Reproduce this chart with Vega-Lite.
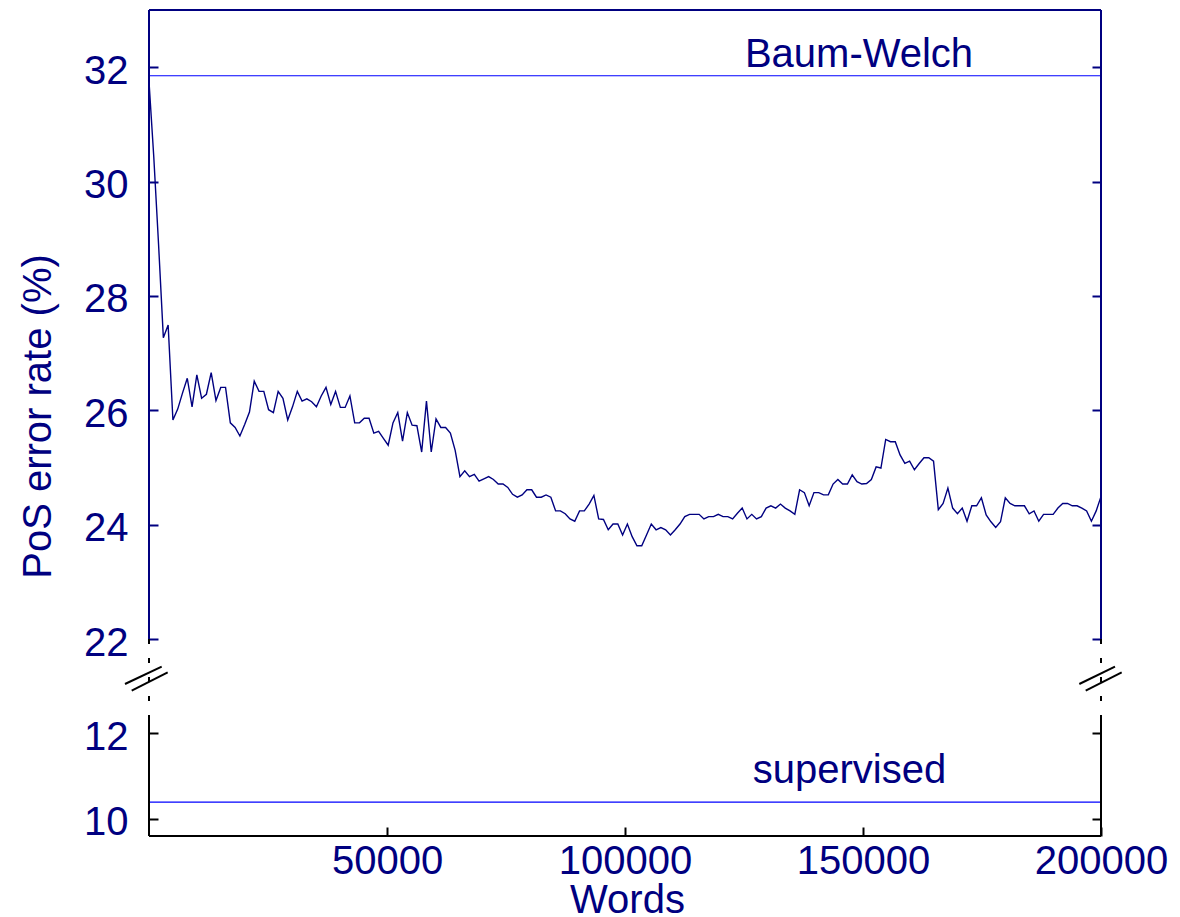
{
  "$schema": "https://vega.github.io/schema/vega-lite/v6.json",
  "width": 952,
  "height": 826,
  "autosize": "none",
  "padding": {"left": 149, "top": 10, "right": 79, "bottom": 81},
  "background": "white",
  "config": {"view": {"stroke": null}, "font": "Liberation Sans"},
  "datasets": {
    "series": [
      {"w":0,"e":31.75},{"w":1005,"e":30.43},{"w":2010,"e":28.9},{"w":3015,"e":27.27},{"w":4020,"e":27.49},{"w":5025,"e":25.83},{"w":6030,"e":26.02},{"w":7035,"e":26.3},{"w":8040,"e":26.56},{"w":9045,"e":26.06},
      {"w":10050,"e":26.62},{"w":11055,"e":26.21},{"w":12060,"e":26.28},{"w":13065,"e":26.66},{"w":14070,"e":26.17},{"w":15075,"e":26.4},{"w":16080,"e":26.4},{"w":17085,"e":25.78},{"w":18090,"e":25.7},{"w":19095,"e":25.55},
      {"w":20100,"e":25.75},{"w":21105,"e":25.97},{"w":22110,"e":26.51},{"w":23115,"e":26.33},{"w":24120,"e":26.33},{"w":25125,"e":26.01},{"w":26130,"e":25.96},{"w":27135,"e":26.33},{"w":28140,"e":26.21},{"w":29145,"e":25.83},
      {"w":30150,"e":26.06},{"w":31155,"e":26.33},{"w":32160,"e":26.16},{"w":33165,"e":26.2},{"w":34170,"e":26.15},{"w":35175,"e":26.06},{"w":36180,"e":26.25},{"w":37185,"e":26.4},{"w":38190,"e":26.1},{"w":39195,"e":26.33},
      {"w":40200,"e":26.05},{"w":41205,"e":26.05},{"w":42210,"e":26.25},{"w":43215,"e":25.78},{"w":44220,"e":25.78},{"w":45225,"e":25.86},{"w":46230,"e":25.86},{"w":47235,"e":25.6},{"w":48240,"e":25.63},{"w":49245,"e":25.51},
      {"w":50250,"e":25.39},{"w":51255,"e":25.78},{"w":52260,"e":25.96},{"w":53265,"e":25.46},{"w":54270,"e":25.96},{"w":55275,"e":25.74},{"w":56280,"e":25.73},{"w":57285,"e":25.27},{"w":58290,"e":26.16},{"w":59295,"e":25.27},
      {"w":60300,"e":25.85},{"w":61305,"e":25.7},{"w":62310,"e":25.7},{"w":63315,"e":25.6},{"w":64320,"e":25.3},{"w":65325,"e":24.84},{"w":66330,"e":24.94},{"w":67335,"e":24.84},{"w":68340,"e":24.88},{"w":69345,"e":24.76},
      {"w":70350,"e":24.8},{"w":71355,"e":24.84},{"w":72360,"e":24.79},{"w":73365,"e":24.71},{"w":74370,"e":24.71},{"w":75375,"e":24.65},{"w":76380,"e":24.53},{"w":77385,"e":24.48},{"w":78390,"e":24.52},{"w":79395,"e":24.61},
      {"w":80400,"e":24.61},{"w":81405,"e":24.48},{"w":82410,"e":24.48},{"w":83415,"e":24.52},{"w":84420,"e":24.48},{"w":85425,"e":24.24},{"w":86430,"e":24.24},{"w":87435,"e":24.19},{"w":88440,"e":24.1},{"w":89445,"e":24.06},
      {"w":90450,"e":24.24},{"w":91455,"e":24.24},{"w":92460,"e":24.36},{"w":93465,"e":24.51},{"w":94470,"e":24.1},{"w":95475,"e":24.09},{"w":96480,"e":23.91},{"w":97485,"e":24.01},{"w":98490,"e":24.01},{"w":99495,"e":23.82},
      {"w":100500,"e":24.01},{"w":101505,"e":23.79},{"w":102510,"e":23.63},{"w":103515,"e":23.63},{"w":104520,"e":23.82},{"w":105525,"e":24.01},{"w":106530,"e":23.91},{"w":107535,"e":23.95},{"w":108540,"e":23.91},{"w":109545,"e":23.82},
      {"w":110550,"e":23.91},{"w":111555,"e":24.01},{"w":112560,"e":24.14},{"w":113565,"e":24.18},{"w":114570,"e":24.18},{"w":115575,"e":24.18},{"w":116580,"e":24.1},{"w":117585,"e":24.14},{"w":118590,"e":24.14},{"w":119595,"e":24.18},
      {"w":120600,"e":24.14},{"w":121605,"e":24.14},{"w":122610,"e":24.1},{"w":123615,"e":24.2},{"w":124620,"e":24.29},{"w":125625,"e":24.1},{"w":126630,"e":24.18},{"w":127635,"e":24.1},{"w":128640,"e":24.14},{"w":129645,"e":24.29},
      {"w":130650,"e":24.33},{"w":131655,"e":24.29},{"w":132660,"e":24.36},{"w":133665,"e":24.29},{"w":134670,"e":24.24},{"w":135675,"e":24.18},{"w":136680,"e":24.61},{"w":137685,"e":24.56},{"w":138690,"e":24.33},{"w":139695,"e":24.56},
      {"w":140700,"e":24.56},{"w":141705,"e":24.52},{"w":142710,"e":24.52},{"w":143715,"e":24.71},{"w":144720,"e":24.79},{"w":145725,"e":24.71},{"w":146730,"e":24.71},{"w":147735,"e":24.87},{"w":148740,"e":24.75},{"w":149745,"e":24.71},
      {"w":150750,"e":24.72},{"w":151755,"e":24.79},{"w":152760,"e":25.01},{"w":153765,"e":24.99},{"w":154770,"e":25.49},{"w":155775,"e":25.45},{"w":156780,"e":25.45},{"w":157785,"e":25.22},{"w":158790,"e":25.07},{"w":159795,"e":25.11},
      {"w":160800,"e":24.96},{"w":161805,"e":25.07},{"w":162810,"e":25.17},{"w":163815,"e":25.17},{"w":164820,"e":25.11},{"w":165825,"e":24.26},{"w":166830,"e":24.37},{"w":167835,"e":24.64},{"w":168840,"e":24.29},{"w":169845,"e":24.19},
      {"w":170850,"e":24.29},{"w":171855,"e":24.06},{"w":172860,"e":24.33},{"w":173865,"e":24.33},{"w":174870,"e":24.47},{"w":175875,"e":24.17},{"w":176880,"e":24.05},{"w":177885,"e":23.95},{"w":178890,"e":24.05},{"w":179895,"e":24.47},
      {"w":180900,"e":24.37},{"w":181905,"e":24.33},{"w":182910,"e":24.33},{"w":183915,"e":24.33},{"w":184920,"e":24.19},{"w":185925,"e":24.24},{"w":186930,"e":24.06},{"w":187935,"e":24.18},{"w":188940,"e":24.18},{"w":189945,"e":24.18},
      {"w":190950,"e":24.29},{"w":191955,"e":24.37},{"w":192960,"e":24.37},{"w":193965,"e":24.33},{"w":194970,"e":24.33},{"w":195975,"e":24.29},{"w":196980,"e":24.24},{"w":197985,"e":24.06},{"w":198990,"e":24.24},{"w":199995,"e":24.49}
    ],
    "refs": [
      {"label": "Baum-Welch", "w": 0, "w2": 200000, "e": 31.85},
      {"label": "supervised", "w": 0, "w2": 200000, "e": 10.39}
    ],
    "reflabels": [
      {"label": "Baum-Welch", "w": 149160, "e": 32.0},
      {"label": "supervised", "w": 147160, "e": 10.84}
    ],
    "upperFrame": [
      {"w": 0, "w2": 0, "e": 22, "e2": 33},
      {"w": 0, "w2": 200000, "e": 33, "e2": 33},
      {"w": 200000, "w2": 200000, "e": 22, "e2": 33}
    ],
    "lowerFrame": [
      {"w": 0, "w2": 0, "e": 9.6, "e2": 12.4},
      {"w": 200000, "w2": 200000, "e": 9.6, "e2": 12.4},
      {"w": 0, "w2": 200000, "e": 9.6, "e2": 9.6}
    ],
    "gap": [
      {"w": 0, "w2": 0, "e": 22, "e2": 12.4},
      {"w": 200000, "w2": 200000, "e": 22, "e2": 12.4}
    ],
    "breaks": [
      {"w": -5042, "e": 16.39, "w2": 2668, "e2": 18.55},
      {"w": -3634, "e": 15.55, "w2": 3929, "e2": 17.85},
      {"w": 195440, "e": 16.39, "w2": 202937, "e2": 18.55},
      {"w": 196785, "e": 15.55, "w2": 204347, "e2": 17.85}
    ]
  },
  "layer": [
    {
      "layer": [
        {
          "data": {"name": "series"},
          "mark": {"type": "line", "stroke": "#000080", "strokeWidth": 1.4},
          "encoding": {
            "x": {
              "field": "w", "type": "quantitative",
              "scale": {"domain": [0, 200000], "nice": false, "zero": false},
              "axis": {
                "orient": "bottom", "values": [50000, 100000, 150000, 200000], "format": "d",
                "domain": false, "grid": false, "tickSize": -9, "tickWidth": 2, "tickColor": "black",
                "labelColor": "#000080", "labelFont": "Liberation Sans", "labelFontSize": 40,
                "labelPadding": 14, "labelFlush": false, "labelBaseline": "top", "labelOverlap": false,
                "title": "Words", "titleFont": "Liberation Sans", "titleFontSize": 40, "titleFontWeight": "normal",
                "titleColor": "#000080", "titleX": 478, "titleY": 76, "titleAlign": "center", "titleBaseline": "alphabetic"
              }
            },
            "y": {
              "field": "e", "type": "quantitative",
              "scale": {"domain": [9.6, 12.4, 22, 33], "range": [826, 706, 629, 0], "nice": false, "zero": false},
              "axis": {
                "orient": "left", "values": [10, 12, 22, 24, 26, 28, 30, 32], "format": "d",
                "domain": false, "grid": false, "tickSize": -9, "tickWidth": 2,
                "tickColor": {"condition": {"test": "datum.value > 20", "value": "#000080"}, "value": "black"},
                "labelColor": "#000080", "labelFont": "Liberation Sans", "labelFontSize": 40,
                "labelPadding": 30, "labelOffset": 4, "labelOverlap": false,
                "title": "PoS error rate (%)", "titleFont": "Liberation Sans", "titleFontSize": 40, "titleFontWeight": "normal",
                "titleColor": "#000080", "titleX": -99, "titleY": 406, "titleAngle": -90, "titleAlign": "center", "titleBaseline": "alphabetic"
              }
            }
          }
        },
        {
          "data": {"name": "refs"},
          "mark": {"type": "rule", "stroke": "#0000ff", "strokeWidth": 1.1},
          "encoding": {
            "x": {"field": "w", "type": "quantitative"},
            "x2": {"field": "w2"},
            "y": {"field": "e", "type": "quantitative"}
          }
        },
        {
          "data": {"name": "reflabels"},
          "mark": {"type": "text", "fill": "#000080", "font": "Liberation Sans", "fontSize": 40, "align": "center", "baseline": "alphabetic"},
          "encoding": {
            "x": {"field": "w", "type": "quantitative"},
            "y": {"field": "e", "type": "quantitative"},
            "text": {"field": "label"}
          }
        },
        {
          "data": {"name": "lowerFrame"},
          "mark": {"type": "rule", "stroke": "black", "strokeWidth": 2},
          "encoding": {
            "x": {"field": "w", "type": "quantitative"},
            "x2": {"field": "w2"},
            "y": {"field": "e", "type": "quantitative"},
            "y2": {"field": "e2"}
          }
        },
        {
          "data": {"name": "gap"},
          "mark": {"type": "rule", "stroke": "black", "strokeWidth": 2, "strokeDash": [5, 14]},
          "encoding": {
            "x": {"field": "w", "type": "quantitative"},
            "x2": {"field": "w2"},
            "y": {"field": "e", "type": "quantitative"},
            "y2": {"field": "e2"}
          }
        },
        {
          "data": {"name": "breaks"},
          "mark": {"type": "rule", "stroke": "black", "strokeWidth": 2},
          "encoding": {
            "x": {"field": "w", "type": "quantitative"},
            "x2": {"field": "w2"},
            "y": {"field": "e", "type": "quantitative"},
            "y2": {"field": "e2"}
          }
        }
      ]
    },
    {
      "data": {"name": "upperFrame"},
      "mark": {"type": "rule", "stroke": "#000080", "strokeWidth": 2},
      "encoding": {
        "x": {"field": "w", "type": "quantitative"},
        "x2": {"field": "w2"},
        "y": {
          "field": "e", "type": "quantitative",
          "scale": {"domain": [9.6, 12.4, 22, 33], "range": [826, 706, 629, 0], "nice": false, "zero": false},
          "axis": {
            "orient": "right", "values": [10, 12, 22, 24, 26, 28, 30, 32],
            "domain": false, "grid": false, "labels": false, "title": null, "tickSize": -9, "tickWidth": 2,
            "tickColor": {"condition": {"test": "datum.value > 20", "value": "#000080"}, "value": "black"}
          }
        },
        "y2": {"field": "e2"}
      }
    }
  ],
  "resolve": {"scale": {"y": "independent"}, "axis": {"y": "independent"}}
}
